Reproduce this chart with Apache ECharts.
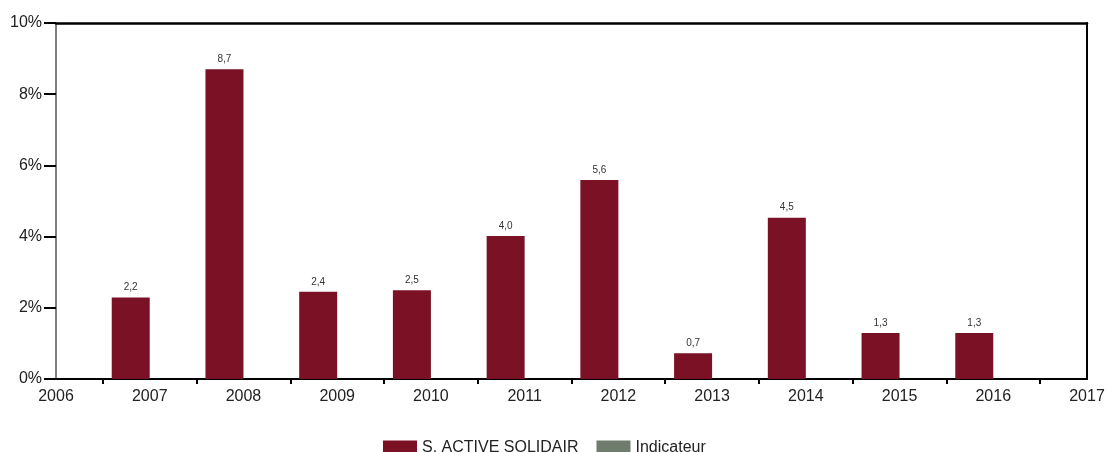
<!DOCTYPE html>
<html>
<head>
<meta charset="utf-8">
<script src="https://cdn.jsdelivr.net/npm/echarts@6/dist/echarts.min.js"></script>
<style>
html,body{margin:0;padding:0;background:#fff;}
#chart{width:1108px;height:452px;}
</style>
</head>
<body>
<div id="chart"></div>
<script>
const categories = ['2006','2007','2008','2009','2010','2011','2012','2013','2014','2015','2016','2017'];
const solidairValues = ['-', 2.29, 8.7, 2.45, 2.49, 4.02, 5.59, 0.72, 4.53, 1.29, 1.29, '-'];
const solidairLabels = ['', '2,2', '8,7', '2,4', '2,5', '4,0', '5,6', '0,7', '4,5', '1,3', '1,3', ''];
const indicateurValues = ['-','-','-','-','-','-','-','-','-','-','-','-'];
const yTicks = [0, 2, 4, 6, 8, 10];
const xBandBoundaries = [2006.5,2007.5,2008.5,2009.5,2010.5,2011.5,2012.5,2013.5,2014.5,2015.5,2016.5];

const FONT = 'Liberation Sans, Arial, sans-serif';
const chart = echarts.init(document.getElementById('chart'));
chart.setOption({
  backgroundColor: '#ffffff',
  animation: false,
  grid: { left: 56, right: 21, top: 23, bottom: 73, containLabel: false },
  legend: {
    left: 378, top: 435,
    itemWidth: 34, itemHeight: 15, itemGap: 18,
    icon: 'rect',
    textStyle: { fontFamily: FONT, fontSize: 16, color: '#222' },
    data: ['S. ACTIVE SOLIDAIR', 'Indicateur']
  },
  xAxis: [
    {
      type: 'category', data: categories, boundaryGap: false, position: 'bottom',
      axisLine: { lineStyle: { color: '#000', width: 2 } },
      axisTick: { show: false },
      axisLabel: { interval: 0, margin: 10, fontFamily: FONT, fontSize: 16, color: '#222' },
      splitLine: { show: false }
    },
    {
      type: 'value', min: 2006, max: 2017, position: 'bottom',
      axisLine: { show: false },
      axisTick: { show: true, customValues: xBandBoundaries, length: 5, lineStyle: { color: '#000', width: 2 } },
      axisLabel: { show: false },
      splitLine: { show: false }
    },
    {
      type: 'value', min: 2006, max: 2017, position: 'top',
      axisLine: { show: true, lineStyle: { color: '#000', width: 2.5 } },
      axisTick: { show: false },
      axisLabel: { show: false },
      splitLine: { show: false }
    }
  ],
  yAxis: [
    {
      type: 'value', min: 0, max: 10, interval: 2, position: 'left',
      axisLine: { show: true, lineStyle: { color: '#555', width: 1.5 } },
      axisTick: { show: true, length: 12, lineStyle: { color: '#000', width: 2 } },
      axisLabel: { margin: 14, formatter: '{value}%', fontFamily: FONT, fontSize: 16, color: '#222' },
      splitLine: { show: false },
      data: yTicks
    },
    {
      type: 'value', min: 0, max: 10, position: 'right',
      axisLine: { show: true, lineStyle: { color: '#000', width: 2 } },
      axisTick: { show: false },
      axisLabel: { show: false },
      splitLine: { show: false }
    }
  ],
  series: [
    {
      name: 'S. ACTIVE SOLIDAIR', type: 'bar', xAxisIndex: 0, yAxisIndex: 0,
      data: solidairValues, barWidth: 38, barGap: '0%',
      itemStyle: { color: '#7B1124' },
      label: {
        show: true, position: 'top', distance: 5,
        fontFamily: FONT, fontSize: 10, color: '#333',
        formatter: p => solidairLabels[p.dataIndex]
      }
    },
    {
      name: 'Indicateur', type: 'bar', xAxisIndex: 0, yAxisIndex: 0,
      data: indicateurValues, barWidth: 38, barGap: '0%',
      itemStyle: { color: '#6E7D6E' }
    }
  ]
});
</script>
</body>
</html>
